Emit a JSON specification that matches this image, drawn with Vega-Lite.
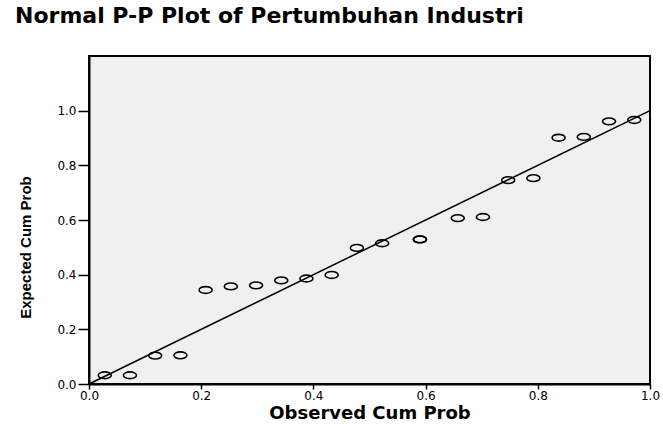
{
  "$schema": "https://vega.github.io/schema/vega-lite/v6.json",
  "autosize": {"type": "none"},
  "padding": {"left": 89, "top": 56, "right": 13, "bottom": 44},
  "width": 561,
  "height": 328,
  "background": "white",
  "title": {
    "text": "Normal P-P Plot of Pertumbuhan Industri",
    "anchor": "start",
    "frame": "group",
    "dx": -74,
    "offset": 28,
    "font": "DejaVu Sans",
    "fontSize": 22,
    "fontWeight": "bold",
    "color": "black"
  },
  "config": {
    "view": {"fill": "#f0f0f0", "stroke": "black", "strokeWidth": 2},
    "axis": {
      "grid": false,
      "domainColor": "black",
      "domainWidth": 2,
      "tickColor": "black",
      "tickWidth": 1.5,
      "labelFont": "DejaVu Sans",
      "labelFontSize": 12,
      "labelColor": "black",
      "titleColor": "black",
      "titleFontWeight": "bold"
    }
  },
  "datasets": {
    "points": [
      {"obs": 0.0281, "exp": 0.032},
      {"obs": 0.0730, "exp": 0.032},
      {"obs": 0.1180, "exp": 0.104},
      {"obs": 0.1629, "exp": 0.105},
      {"obs": 0.2079, "exp": 0.344},
      {"obs": 0.2528, "exp": 0.357},
      {"obs": 0.2978, "exp": 0.361},
      {"obs": 0.3427, "exp": 0.379},
      {"obs": 0.3876, "exp": 0.386},
      {"obs": 0.4326, "exp": 0.399},
      {"obs": 0.4775, "exp": 0.498},
      {"obs": 0.5225, "exp": 0.515},
      {"obs": 0.5899, "exp": 0.529},
      {"obs": 0.5899, "exp": 0.529},
      {"obs": 0.6573, "exp": 0.607},
      {"obs": 0.7022, "exp": 0.611},
      {"obs": 0.7472, "exp": 0.746},
      {"obs": 0.7921, "exp": 0.753},
      {"obs": 0.8371, "exp": 0.901},
      {"obs": 0.8820, "exp": 0.904},
      {"obs": 0.9270, "exp": 0.961},
      {"obs": 0.9719, "exp": 0.966}
    ],
    "diag": [
      {"obs": 0, "exp": 0},
      {"obs": 1, "exp": 1}
    ]
  },
  "layer": [
    {
      "data": {"name": "diag"},
      "mark": {"type": "line", "color": "black", "strokeWidth": 1.5},
      "encoding": {
        "x": {"field": "obs", "type": "quantitative"},
        "y": {"field": "exp", "type": "quantitative"}
      }
    },
    {
      "data": {"name": "points"},
      "mark": {
        "type": "point",
        "shape": "M-1,0A1,0.52 0 1,1 1,0A1,0.52 0 1,1 -1,0Z",
        "size": 170,
        "filled": false,
        "stroke": "black",
        "strokeWidth": 1.6,
        "opacity": 1
      },
      "encoding": {
        "x": {
          "field": "obs",
          "type": "quantitative",
          "scale": {"domain": [0, 1], "nice": false, "zero": false},
          "axis": {
            "title": "Observed Cum Prob",
            "values": [0, 0.2, 0.4, 0.6, 0.8, 1.0],
            "format": ".1f",
            "tickSize": 5,
            "labelPadding": 1,
            "labelFlush": false,
            "labelOverlap": false,
            "titleFont": "DejaVu Sans",
            "titleFontSize": 18,
            "titlePadding": 3
          }
        },
        "y": {
          "field": "exp",
          "type": "quantitative",
          "scale": {"domain": [0, 1.2], "nice": false, "zero": false},
          "axis": {
            "title": "Expected Cum Prob",
            "values": [0, 0.2, 0.4, 0.6, 0.8, 1.0],
            "format": ".1f",
            "tickSize": 11,
            "labelPadding": 2,
            "labelOverlap": false,
            "titleFont": "Liberation Sans",
            "titleFontSize": 15,
            "titleAngle": -90,
            "titleAlign": "center",
            "titleBaseline": "alphabetic",
            "titleX": -59,
            "titleY": 191
          }
        }
      }
    }
  ]
}
